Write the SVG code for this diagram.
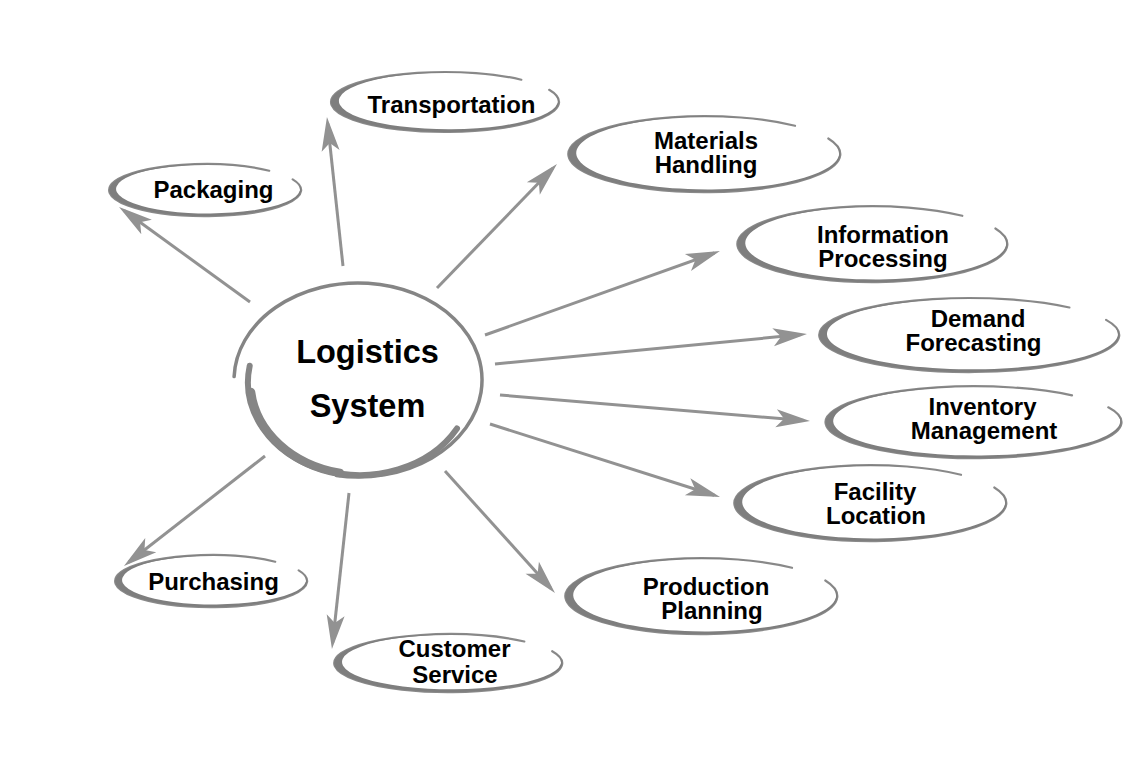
<svg xmlns="http://www.w3.org/2000/svg" width="1140" height="760" viewBox="0 0 1140 760">
<style>
.ring{fill:none;stroke:#8a8a8a;stroke-width:2.2;stroke-linecap:round}
.brush{fill:#7e7e7e;stroke:none}
.core{fill:none;stroke:#858585;stroke-linecap:round}
.lbl{font-family:"Liberation Sans",Arial,Helvetica,sans-serif;font-weight:bold;font-size:24px;fill:#000;text-anchor:middle}
.big{font-size:32.5px}
.conn line{stroke:#929292;stroke-width:3;marker-end:url(#ah)}
</style>
<defs>
<marker id="ah" markerUnits="userSpaceOnUse" viewBox="-30 -15 40 30" markerWidth="40" markerHeight="30" refX="0" refY="0" orient="auto" overflow="visible">
<path d="M6,0 L-28,-9 L-20,0 L-28,9 Z" fill="#929292"/>
</marker>
</defs>
<rect width="1140" height="760" fill="#fff"/>
<g class="conn" id="connectors">
<line x1="343" y1="266" x2="327.6" y2="123.0"/>
<line x1="250" y1="302" x2="123.9" y2="210.5"/>
<line x1="437" y1="288" x2="552.8" y2="168.3"/>
<line x1="485" y1="335" x2="714.3" y2="253.0"/>
<line x1="495" y1="364" x2="801.0" y2="334.6"/>
<line x1="500" y1="395" x2="804.0" y2="420.5"/>
<line x1="490" y1="424" x2="714.3" y2="495.2"/>
<line x1="445" y1="471" x2="551.0" y2="588.5"/>
<line x1="349" y1="493" x2="332.6" y2="643.0"/>
<line x1="265" y1="456" x2="128.7" y2="562.3"/>
</g>
<g id="logistics-system">
<path class="core" stroke-width="3.5" d="M234.1 376.6 A124 97 0 1 1 336.5 475.5"/>
<path class="core" stroke-width="6" d="M249.7 365.8 A112 93 0 0 0 457 428.5"/>
<path class="core" stroke-width="8.5" d="M251 392 A112 93 0 0 0 340 473"/>
<text class="lbl big" x="367.5" y="363">Logistics</text>
<text class="lbl big" x="367.5" y="417">System</text>
</g>
<g id="transportation">
<path class="ring" d="M521.3 79.7 A114 30 0 1 0 549.2 89.8"/>
<path class="brush" d="M521.3 79.7 A114 30 0 1 0 549.2 89.8 A109.5 28.4 0 1 1 521.3 79.7 Z"/>
<text class="lbl" x="451.5" y="113">Transportation</text>
</g>
<g id="materials-handling">
<path class="ring" d="M795 125.8 A136 38 0 1 0 828.3 138.5"/>
<path class="brush" d="M795 125.8 A136 38 0 1 0 828.3 138.5 A131.5 36.4 0 1 1 795 125.8 Z"/>
<text class="lbl" x="706" y="149">Materials</text>
<text class="lbl" x="706" y="173">Handling</text>
</g>
<g id="packaging">
<path class="ring" d="M269.2 170.7 A96 26 0 1 0 292.7 179.4"/>
<path class="brush" d="M269.2 170.7 A96 26 0 1 0 292.7 179.4 A92 24.5 0 1 1 269.2 170.7 Z"/>
<text class="lbl" x="213.5" y="198">Packaging</text>
</g>
<g id="information-processing">
<path class="ring" d="M962.3 215.8 A135 38 0 1 0 995.4 228.5"/>
<path class="brush" d="M962.3 215.8 A135 38 0 1 0 995.4 228.5 A130.5 36.4 0 1 1 962.3 215.8 Z"/>
<text class="lbl" x="883" y="242.5">Information</text>
<text class="lbl" x="883" y="266.5">Processing</text>
</g>
<g id="demand-forecasting">
<path class="ring" d="M1069.4 307.5 A150 37 0 1 0 1106.1 319.9"/>
<path class="brush" d="M1069.4 307.5 A150 37 0 1 0 1106.1 319.9 A145.5 35.4 0 1 1 1069.4 307.5 Z"/>
<text class="lbl" x="978" y="326.5">Demand</text>
<text class="lbl" x="973.5" y="350.5">Forecasting</text>
</g>
<g id="inventory-management">
<path class="ring" d="M1072 395.3 A148 36 0 1 0 1108.3 407.3"/>
<path class="brush" d="M1072 395.3 A148 36 0 1 0 1108.3 407.3 A143.5 34.4 0 1 1 1072 395.3 Z"/>
<text class="lbl" x="982.5" y="414.5">Inventory</text>
<text class="lbl" x="984" y="438.5">Management</text>
</g>
<g id="facility-location">
<path class="ring" d="M961 474.8 A136 38 0 1 0 994.3 487.5"/>
<path class="brush" d="M961 474.8 A136 38 0 1 0 994.3 487.5 A131.5 36.4 0 1 1 961 474.8 Z"/>
<text class="lbl" x="875" y="500">Facility</text>
<text class="lbl" x="876" y="524">Location</text>
</g>
<g id="production-planning">
<path class="ring" d="M792 567.8 A136 38 0 1 0 825.3 580.5"/>
<path class="brush" d="M792 567.8 A136 38 0 1 0 825.3 580.5 A131.5 36.4 0 1 1 792 567.8 Z"/>
<text class="lbl" x="706" y="594.5">Production</text>
<text class="lbl" x="712" y="618.5">Planning</text>
</g>
<g id="customer-service">
<path class="ring" d="M524.3 641.5 A114 29 0 1 0 552.2 651.2"/>
<path class="brush" d="M524.3 641.5 A114 29 0 1 0 552.2 651.2 A109.5 27.4 0 1 1 524.3 641.5 Z"/>
<text class="lbl" x="454.5" y="657">Customer</text>
<text class="lbl" x="455" y="683">Service</text>
</g>
<g id="purchasing">
<path class="ring" d="M275.2 561.7 A96 26 0 1 0 298.7 570.4"/>
<path class="brush" d="M275.2 561.7 A96 26 0 1 0 298.7 570.4 A92 24.5 0 1 1 275.2 561.7 Z"/>
<text class="lbl" x="213.5" y="590">Purchasing</text>
</g>
</svg>
